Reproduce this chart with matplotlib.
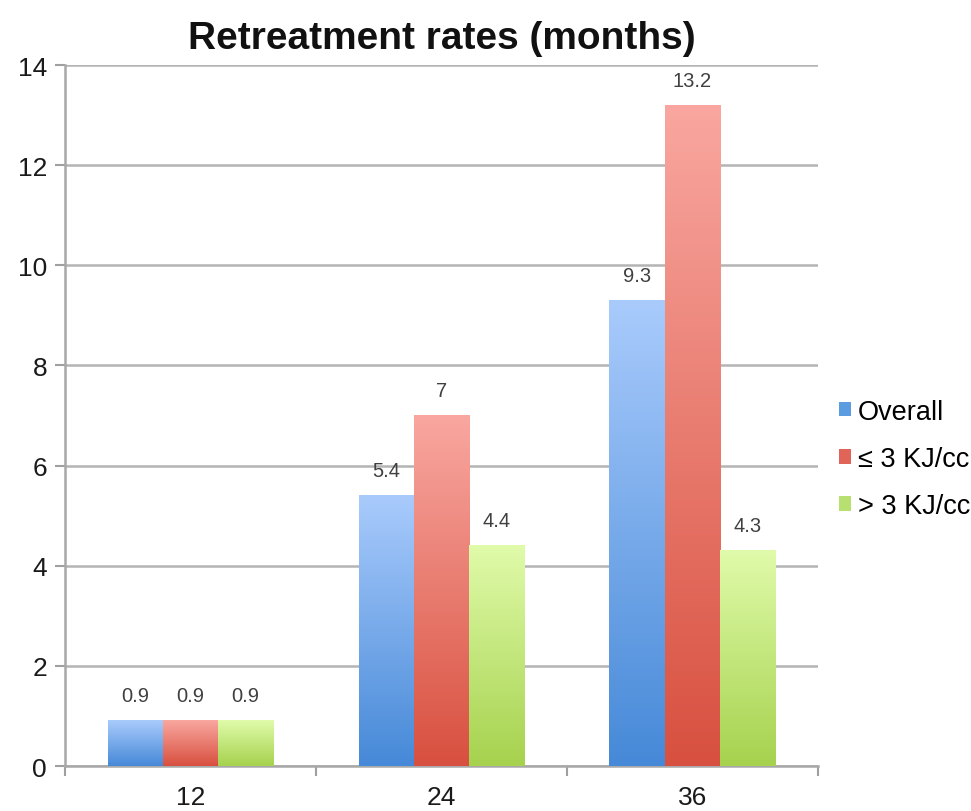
import matplotlib
matplotlib.use("Agg")
import matplotlib.pyplot as plt
import numpy as np
from matplotlib.colors import LinearSegmentedColormap
from matplotlib.patches import Patch

plt.rcParams['font.family'] = ['Liberation Sans', 'DejaVu Sans']

categories = ["12", "24", "36"]
series_names = ["Overall", "\u2264 3 KJ/cc", "> 3 KJ/cc"]
overall = [0.9, 5.4, 9.3]
low_energy = [0.9, 7.0, 13.2]
high_energy = [0.9, 4.4, 4.3]
value_labels = [["0.9", "5.4", "9.3"], ["0.9", "7", "13.2"], ["0.9", "4.4", "4.3"]]
yticks = [0, 2, 4, 6, 8, 10, 12, 14]

# (top, bottom) gradient colours per series
gradients = [("#a9cbfc", "#4689d8"),
             ("#f9a7a0", "#d8503f"),
             ("#e0fbaa", "#a6d24e")]
legend_colors = ["#5b9be0", "#e06458", "#b8e070"]

fig = plt.figure(figsize=(9.71, 8.12), dpi=100)
ax = fig.add_axes([0.067, 0.0554, 0.775, 0.8633])

x = np.arange(len(categories))
width = 0.22
offsets = [-width, 0, width]
series = [overall, low_energy, high_energy]

for s, (vals, off, (ctop, cbot)) in enumerate(zip(series, offsets, gradients)):
    bars = ax.bar(x + off, vals, width, color="none", edgecolor="none", zorder=3)
    cmap = LinearSegmentedColormap.from_list(f"g{s}", [cbot, ctop])
    grad = np.linspace(1, 0, 256).reshape(-1, 1)
    for b, lab in zip(bars, value_labels[s]):
        x0, w, h = b.get_x(), b.get_width(), b.get_height()
        ax.imshow(grad, cmap=cmap, extent=[x0, x0 + w, 0, h], aspect="auto",
                  origin="upper", zorder=3, interpolation="bicubic")
        ax.annotate(lab, (x0 + w / 2, h), xytext=(0, 18), textcoords="offset points",
                    ha="center", va="center", fontsize=14.5, color="#404040")

ax.set_xlim(-0.5, len(categories) - 0.5)
ax.set_ylim(0, 14)
ax.set_yticks(yticks)
ax.set_yticklabels([str(t) for t in yticks], fontsize=19, color="#1a1a1a")
ax.set_xticks(x)
ax.set_xticklabels(categories, fontsize=19, color="#1a1a1a")
ax.tick_params(axis="x", length=0, pad=14)
ax.set_xticks(np.arange(-0.5, len(categories), 1.0), minor=True)
ax.tick_params(axis="x", which="minor", length=7, width=1.5, color="#a0a0a0")
ax.tick_params(axis="y", length=7, width=1.5, color="#a0a0a0", pad=6)

ax.yaxis.grid(True, color="#b4b4b4", linewidth=1.8, zorder=0)
ax.set_axisbelow(True)
for side in ["top", "right"]:
    ax.spines[side].set_visible(False)
for side in ["left", "bottom"]:
    ax.spines[side].set_color("#a8a8a8")
    ax.spines[side].set_linewidth(1.8)

ax.set_title("Retreatment rates (months)", fontsize=28, fontweight="bold",
             color="#111111", pad=12)

handles = [Patch(facecolor=c, edgecolor="none") for c in legend_colors]
ax.legend(handles, series_names, loc="center left", bbox_to_anchor=(1.0, 0.438),
          frameon=False, fontsize=19.5, handlelength=0.45, handleheight=0.45,
          handletextpad=0.25, labelspacing=0.78, borderaxespad=0.4)

fig.savefig("out.png", dpi=100)
